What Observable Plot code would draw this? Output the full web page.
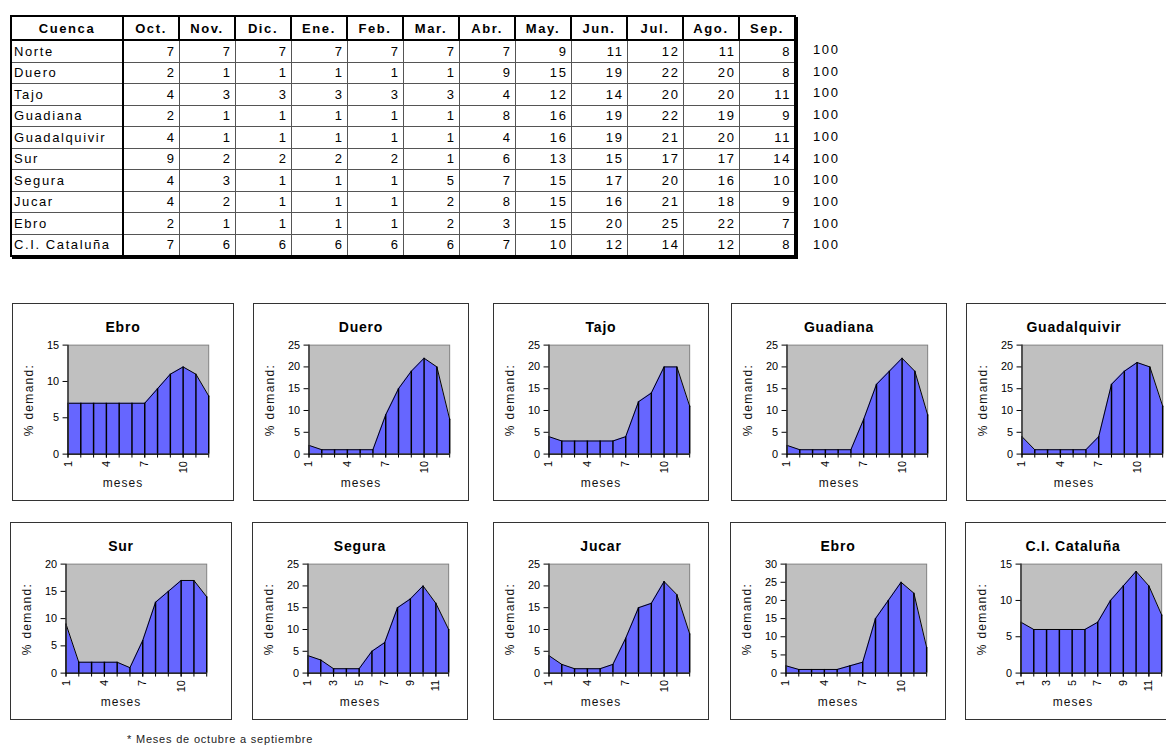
<!DOCTYPE html>
<html lang="es">
<head>
<meta charset="utf-8">
<title>Distribución mensual de la demanda por cuenca</title>
<script src="https://cdn.jsdelivr.net/npm/d3@7"></script>
<script src="https://cdn.jsdelivr.net/npm/@observablehq/plot@0.6"></script>
<style>
  body { margin: 0; background: #fff; font-family: Arial, "Liberation Sans", sans-serif; color: #000; }
  #page { position: relative; width: 1166px; height: 756px; overflow: hidden; }
  table.datos { position: absolute; left: 10px; top: 15px; border-collapse: collapse; table-layout: fixed;
    border: 2px solid #000; box-shadow: 2px 2px 0 #000; font-size: 13px; letter-spacing: 1.6px; }
  table.datos th { font-weight: bold; height: 22px; padding: 0; text-align: center;
    border-right: 2px solid #000; border-bottom: 2px solid #000; }
  table.datos td { height: 20.5px; padding: 0 3px 0 2px; border: 1px solid #555; text-align: right; }
  table.datos td.nombre { text-align: left; border-right: 2px solid #000; }
  .total { position: absolute; left: 813px; font-size: 13px; letter-spacing: 1.6px; }
  .caja { position: absolute; box-sizing: border-box; border: 1px solid #333; background: #fff; }
  .caja svg { position: absolute; left: 0; top: 0; }
  .titulo { position: absolute; left: 0; top: 15px; width: 100%; text-align: center;
    font-weight: bold; font-size: 14px; letter-spacing: 0.8px; }
  .ylab { position: absolute; font-size: 12px; letter-spacing: 1.3px; white-space: nowrap;
    transform: translate(-50%, -50%) rotate(-90deg); color: #111; }
  .xlab { position: absolute; left: 0; width: 100%; text-align: center; font-size: 12px;
    letter-spacing: 1px; color: #111; }
  .nota { position: absolute; left: 127px; top: 733px; font-size: 11px; letter-spacing: 0.8px; color: #222; }
</style>
</head>
<body>
<div id="page"></div>
<script>
// Porcentaje de la demanda anual en cada mes (octubre a septiembre), por cuenca
const cuencas = ["Norte", "Duero", "Tajo", "Guadiana", "Guadalquivir", "Sur", "Segura", "Jucar", "Ebro", "C.I. Cataluña"];
const meses = ["Oct.", "Nov.", "Dic.", "Ene.", "Feb.", "Mar.", "Abr.", "May.", "Jun.", "Jul.", "Ago.", "Sep."];
const norte        = [7, 7, 7, 7, 7, 7, 7, 9, 11, 12, 11, 8];
const duero        = [2, 1, 1, 1, 1, 1, 9, 15, 19, 22, 20, 8];
const tajo         = [4, 3, 3, 3, 3, 3, 4, 12, 14, 20, 20, 11];
const guadiana     = [2, 1, 1, 1, 1, 1, 8, 16, 19, 22, 19, 9];
const guadalquivir = [4, 1, 1, 1, 1, 1, 4, 16, 19, 21, 20, 11];
const sur          = [9, 2, 2, 2, 2, 1, 6, 13, 15, 17, 17, 14];
const segura       = [4, 3, 1, 1, 1, 5, 7, 15, 17, 20, 16, 10];
const jucar        = [4, 2, 1, 1, 1, 2, 8, 15, 16, 21, 18, 9];
const ebro         = [2, 1, 1, 1, 1, 2, 3, 15, 20, 25, 22, 7];
const cataluna     = [7, 6, 6, 6, 6, 6, 7, 10, 12, 14, 12, 8];
const totales      = [100, 100, 100, 100, 100, 100, 100, 100, 100, 100];

// Gráficos: título, serie, máximo del eje y, meses rotulados
const titulos = ["Ebro", "Duero", "Tajo", "Guadiana", "Guadalquivir", "Sur", "Segura", "Jucar", "Ebro", "C.I. Cataluña"];
const series = [norte, duero, tajo, guadiana, guadalquivir, sur, segura, jucar, ebro, cataluna];
const yMaximos = [15, 25, 25, 25, 25, 20, 25, 25, 30, 15];
const mesesCada3 = [1, 4, 7, 10];
const mesesImpares = [1, 3, 5, 7, 9, 11];
const rotulosX = [mesesCada3, mesesCada3, mesesCada3, mesesCada3, mesesCada3,
                  mesesCada3, mesesImpares, mesesCada3, mesesCada3, mesesImpares];
const numMeses = d3.range(1, 13);

const page = document.getElementById("page");

// ---- Tabla ----
const table = document.createElement("table");
table.className = "datos";
const colgroup = document.createElement("colgroup");
colgroup.innerHTML = `<col style="width:112px">` + meses.map(() => `<col style="width:56px">`).join("");
table.appendChild(colgroup);
const thead = document.createElement("tr");
thead.innerHTML = `<th>Cuenca</th>` + meses.map(m => `<th>${m}</th>`).join("");
table.appendChild(thead);
cuencas.forEach((c, i) => {
  const tr = document.createElement("tr");
  tr.innerHTML = `<td class="nombre">${c}</td>` + series[i].map(v => `<td>${v}</td>`).join("");
  table.appendChild(tr);
});
page.appendChild(table);

totales.forEach((t, i) => {
  const d = document.createElement("div");
  d.className = "total";
  d.style.top = (42 + i * 21.7) + "px";
  d.textContent = t;
  page.appendChild(d);
});

// ---- Pequeños múltiplos ----
const izquierdas = [[12, 253, 493, 731, 966], [10, 252, 493, 730, 965]];
const arribas = [303, 522];
const alto = 198;
const anchoPlot = 142;

series.forEach((serie, i) => {
  const fila = Math.floor(i / 5), col = i % 5;
  const ancho = col === 0 ? 222 : 216;
  const datos = serie.map((v, k) => ({m: k + 1, v}));
  const yMax = yMaximos[i];

  const caja = document.createElement("div");
  caja.className = "caja";
  caja.style.left = izquierdas[fila][col] + "px";
  caja.style.top = arribas[fila] + "px";
  caja.style.width = ancho + "px";
  caja.style.height = alto + "px";

  const chart = Plot.plot({
    width: ancho,
    height: alto,
    marginLeft: 55,
    marginRight: ancho - 55 - anchoPlot,
    marginTop: 41,
    marginBottom: 47,
    x: {type: "linear", domain: [1, 12]},
    y: {type: "linear", domain: [0, yMax]},
    style: {fontFamily: 'Arial, "Liberation Sans", sans-serif', fontSize: "11px", color: "#000", background: "transparent", overflow: "visible"},
    marks: [
      Plot.frame({fill: "#c0c0c0", stroke: "#808080"}),
      Plot.areaY(datos, {x: "m", y: "v", fill: "#6666ff"}),
      Plot.ruleX(datos, {x: "m", y1: 0, y2: "v", stroke: "#000", strokeWidth: 1.5}),
      Plot.lineY(datos, {x: "m", y: "v", stroke: "#000", strokeWidth: 1}),
      Plot.ruleY([0], {stroke: "#000", strokeWidth: 1.2}),
      Plot.ruleX([1], {stroke: "#333", strokeWidth: 1.5}),
      Plot.axisY({ticks: d3.range(0, yMax + 1, 5), tickSize: 5, tickPadding: 4, label: null}),
      Plot.axisX({ticks: numMeses, tickSize: 4, tickFormat: () => "", label: null}),
      Plot.axisX({ticks: rotulosX[i], tickSize: 4, tickPadding: 3, tickRotate: -90, label: null})
    ]
  });
  caja.appendChild(chart);

  const t = document.createElement("div");
  t.className = "titulo";
  t.textContent = titulos[i];
  caja.appendChild(t);

  const yl = document.createElement("div");
  yl.className = "ylab";
  yl.style.left = "16px";
  yl.style.top = "96px";
  yl.textContent = "% demand:";
  caja.appendChild(yl);

  const xl = document.createElement("div");
  xl.className = "xlab";
  xl.style.top = "172px";
  xl.textContent = "meses";
  caja.appendChild(xl);

  page.appendChild(caja);
});

const nota = document.createElement("div");
nota.className = "nota";
nota.textContent = "* Meses de octubre a septiembre";
page.appendChild(nota);
</script>
</body>
</html>
